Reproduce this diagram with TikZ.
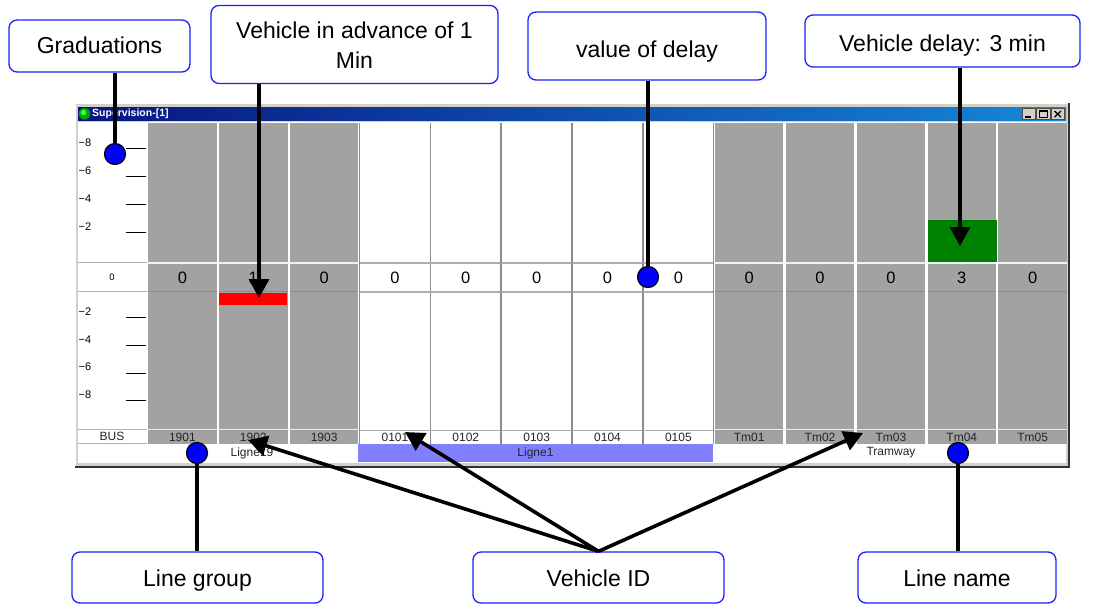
\documentclass[tikz,border=0pt]{standalone}
\usepackage{fontspec}
\setmainfont{Liberation Sans}
\usetikzlibrary{arrows.meta}
\definecolor{cblue}{RGB}{30,30,255}
\definecolor{colgray}{RGB}{162,162,162}
\definecolor{winface}{RGB}{212,208,200}
\definecolor{titleL}{RGB}{8,20,128}
\definecolor{titleR}{RGB}{22,136,214}
\definecolor{lgblue}{RGB}{128,128,255}
\definecolor{dgreen}{RGB}{0,128,0}
\definecolor{sepgray}{RGB}{140,140,140}
\definecolor{dotblue}{RGB}{0,0,255}
\newcommand{\lowr}[2]{\raisebox{-#1pt}[0.75em][0.22em]{#2}}
\begin{document}
\begin{tikzpicture}[x=1pt,y=-1pt,
  callout/.style={draw=cblue, line width=1.3pt, rounded corners=8pt, fill=white,
    font=\fontsize{23}{30}\selectfont, align=center, inner sep=0pt},
  conn/.style={line width=3.6pt, black},
  arr/.style={conn, -{Triangle[length=19pt,width=20pt]}},
  dot/.style={circle, fill=dotblue, draw=black, line width=1.2pt, minimum size=21pt, inner sep=0pt},
  valtxt/.style={font=\fontsize{16.5}{17}\selectfont, inner sep=0pt},
  idtxt/.style={font=\fontsize{12}{13}\selectfont, text=black!85, inner sep=0pt},
  sctxt/.style={font=\fontsize{11}{12}\selectfont, inner sep=0pt},
]
\useasboundingbox (0,0) rectangle (1098,605);
\fill[white] (0,0) rectangle (1098,605);

% window frame
\fill[winface] (75,103) rectangle (1069,467);
\draw[black!80, line width=1.5pt] (75,467) -- (1069,467) -- (1069,103);
\draw[white, line width=1pt] (75.5,466) -- (75.5,103.5) -- (1068,103.5);
\shade[left color=titleL, right color=titleR] (78,107) rectangle (1066,120.5);
\fill[green!65!black] (84.5,113.8) circle (5.8);
\fill[green!80!white] (83.5,112.5) circle (2.8);
\node[anchor=west, text=white, font=\bfseries\fontsize{10.5}{11}\selectfont, inner sep=0pt] (ttl) at (92,113.8) {Supervision-[1]};
\foreach \bx in {1022,1036.5,1051} {
  \draw[fill=winface, draw=black!70, line width=0.8pt] (\bx,108.5) rectangle (\bx+13.5,119.5);
}
\draw[line width=1.6pt] (1025,116.8) -- (1031,116.8);
\draw[line width=0.8pt] (1039.5,110.8) rectangle (1047.5,117.3);
\draw[line width=1.5pt] (1039.5,111.2) -- (1047.5,111.2);
\draw[line width=1.3pt] (1054.5,111) -- (1061,117.2) (1061,111) -- (1054.5,117.2);

% client area
\fill[white] (78,121.5) rectangle (1066,463);

% scale column
\foreach \y in {262.5,291.5,429.5,443.5} {\draw[black!30, line width=1pt] (78,\y) -- (147,\y);}
\foreach \y/\t/\n in {143/8/a,171/6/b,199/4/c,227/2/d,312/2/e,340/4/f,367/6/g,395/8/h} {
  \node[sctxt, anchor=west] (t\n) at (78.5,\y) {−\t};
}
\foreach \y in {148,176,204,232,317,345,373,400} {\draw[black, line width=0.9pt] (126,\y) -- (145.5,\y);}
\node[sctxt, font=\fontsize{9.5}{10}\selectfont] (sc0) at (112,277) {0};
\node[idtxt] (bus) at (112,436.5) {BUS};

% columns
\foreach \i/\id/\val/\c in {0/1901/0/g,1/1902/1/g,2/1903/0/g,3/0101/0/w,4/0102/0/w,5/0103/0/w,6/0104/0/w,7/0105/0/w,8/Tm01/0/g,9/Tm02/0/g,10/Tm03/0/g,11/Tm04/3/g,12/Tm05/0/g} {
  \pgfmathsetmacro\xa{147+70.85*\i}
  \pgfmathsetmacro\xb{\xa+70.85}
  \pgfmathsetmacro\xc{\xa+35.42}
  \if\c g
    \fill[colgray] (\xa+1.2,122.5) rectangle (\xb-1.2,443.5);
    \draw[white!85!colgray, line width=1.2pt] (\xa+1.2,263) -- (\xb-1.2,263);
    \draw[black!45, line width=1pt] (\xa+1.2,291.5) -- (\xb-1.2,291.5);
    \draw[white!85!colgray, line width=1.2pt] (\xa+1.2,429.3) -- (\xb-1.2,429.3);
    \draw[black!40, line width=0.8pt] (\xa+1.2,430.6) -- (\xb-1.2,430.6);
  \else
    \draw[sepgray, line width=1.8pt] (\xa,122.5) -- (\xa,443.5);
    \draw[sepgray!70, line width=1.2pt] (\xa,263) -- (\xb,263);
    \draw[sepgray!70, line width=1.2pt] (\xa,292) -- (\xb,292);
    \draw[sepgray!70, line width=1.2pt] (\xa,430.5) -- (\xb,430.5);
  \fi
  \node[valtxt] (v\i) at (\xc,277.5) {\val};
  \node[idtxt] (id\i) at (\xc,437) {\id};
}
\draw[sepgray, line width=1.8pt] (713.5,122.5) -- (713.5,443.5);

% red and green bars
\fill[red] (219,292.5) rectangle (287,305);
\fill[dgreen] (928,220) rectangle (996.5,262.3);

% line group row
\fill[lgblue] (358,444) rectangle (713,462);
\node[idtxt] (lg19) at (252,453) {Ligne19};
\node[idtxt] (lg1) at (535.5,453) {Ligne1};
\node[idtxt] (lgtr) at (891,453) {Tramway};

% callouts
\node[callout, minimum width=181pt, minimum height=52pt] (grad) at (99.5,46) {\lowr{1}{Graduations}};
\node[callout, minimum width=287pt, minimum height=78pt] (vadv) at (354.5,44.5) {\lowr{3}{Vehicle in advance of 1}\\\lowr{3}{Min}};
\node[callout, minimum width=238pt, minimum height=68pt] (vod) at (647,46) {\lowr{5}{value of delay}};
\node[callout, minimum width=275pt, minimum height=52pt] (vdel) at (942.5,41) {\lowr{4}{Vehicle delay: 3 min}};
\node[callout, minimum width=251pt, minimum height=51pt] (lgrp) at (197.5,577.5) {\lowr{3}{Line group}};
\node[callout, minimum width=251pt, minimum height=51pt] (vid) at (598.5,577.5) {\lowr{3}{Vehicle ID}};
\node[callout, minimum width=198pt, minimum height=51pt] (lname) at (957,577.5) {\lowr{3}{Line name}};

% connectors
\coordinate (gd) at (115,154);
\coordinate (vd) at (648,277);
\coordinate (ld) at (197,453);
\coordinate (nd) at (958,453);
\coordinate (tipA) at (259,298);
\coordinate (tipD) at (960,246);
\coordinate (tip1) at (248,440);
\coordinate (tip2) at (405,432);
\coordinate (tip3) at (863,433);

\draw[conn] (gd |- grad.south) -- (gd);
\draw[conn] (vd |- vod.south) -- (vd);
\draw[conn] (ld |- lgrp.north) -- (ld);
\draw[conn] (nd |- lname.north) -- (nd);
\draw[arr] (tipA |- vadv.south) -- (tipA);
\draw[arr] (tipD |- vdel.south) -- (tipD);
\draw[arr] (vid.north) -- (tip1);
\draw[arr] (vid.north) -- (tip2);
\draw[arr] (vid.north) -- (tip3);

\node[dot] (gdn) at (gd) {};
\node[dot] (vdn) at (vd) {};
\node[dot] (ldn) at (ld) {};
\node[dot] (ndn) at (nd) {};
\end{tikzpicture}
\end{document}
